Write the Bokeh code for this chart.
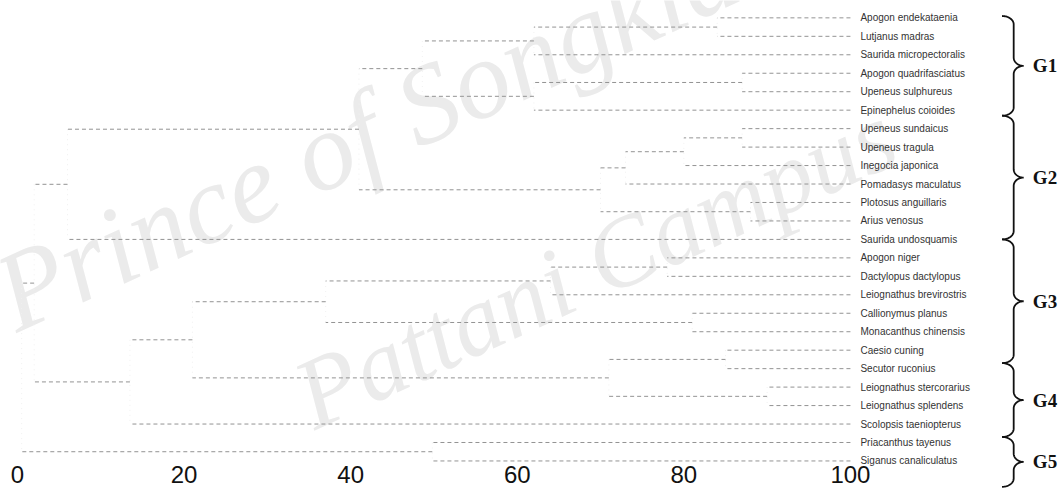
import numpy as np
from bokeh.plotting import figure
from bokeh.models import Range1d, FixedTicker
from bokeh.core.properties import value
from bokeh.embed import file_html
from bokeh.resources import INLINE

# ---------------- data ----------------
species = [
    "Apogon endekataenia", "Lutjanus madras", "Saurida micropectoralis",
    "Apogon quadrifasciatus", "Upeneus sulphureus", "Epinephelus coioides",
    "Upeneus sundaicus", "Upeneus tragula", "Inegocia japonica",
    "Pomadasys maculatus", "Plotosus anguillaris", "Arius venosus",
    "Saurida undosquamis", "Apogon niger", "Dactylopus dactylopus",
    "Leiognathus brevirostris", "Callionymus planus", "Monacanthus chinensis",
    "Caesio cuning", "Secutor ruconius", "Leiognathus stercorarius",
    "Leiognathus splendens", "Scolopsis taeniopterus", "Priacanthus tayenus",
    "Siganus canaliculatus",
]
# linkage: leaves are 0..24, merge k creates node 25+k ; level = similarity (%)
merge_a = [0, 25, 3, 27, 26, 6, 30, 31, 10, 32, 29, 35, 13, 37, 16, 38, 18, 20, 41, 40, 44, 36, 23, 46]
merge_b = [1, 2, 4, 5, 28, 7, 8, 9, 11, 33, 34, 12, 14, 15, 17, 39, 19, 21, 42, 43, 22, 45, 24, 47]
merge_level = [84, 62, 87, 62, 48.6, 87, 80, 73, 88, 70, 41, 6,
               78, 64, 81, 37, 85, 90, 71, 21, 13.5, 2, 49.8, 0.5]

ticks = [0, 20, 40, 60, 80, 100]
groups = ["G1", "G2", "G3", "G4", "G5"]
group_top = [0.9, 6.3, 13.0, 19.7, 23.7]      # row extent of each brace
group_bottom = [6.3, 13.0, 19.7, 23.7, 26.4]

watermark_1 = "Prince of Songkla University"
watermark_2 = "Pattani Campus"

# ---------------- figure ----------------
p = figure(width=1064, height=490, output_backend="svg", toolbar_location=None,
           x_range=Range1d(-2.04, 125.7), y_range=Range1d(26.6, 0.06))
p.min_border = 0
p.min_border_left = 0
p.min_border_right = 0
p.min_border_top = 0
p.min_border_bottom = 0
p.outline_line_color = None
p.xgrid.visible = False
p.ygrid.visible = False
p.yaxis.visible = False
p.background_fill_color = "white"

p.xaxis.ticker = FixedTicker(ticks=ticks)
p.xaxis.axis_line_color = None
p.xaxis.major_tick_line_color = None
p.xaxis.minor_tick_line_color = None
p.xaxis.major_tick_out = 0
p.xaxis.major_label_text_font = "Liberation Sans"
p.xaxis.major_label_text_font_size = "24px"
p.xaxis.major_label_text_color = "#111111"
p.xaxis.major_label_standoff = -25

# watermark
p.text(x=[-2.0], y=[16.2], text=[watermark_1], angle=0.43,
       text_font=value("Liberation Serif"), text_font_style="italic",
       text_font_size="112px", text_color="#ebebeb", text_baseline="alphabetic")
p.text(x=[34.0], y=[21.7], text=[watermark_2], angle=0.43,
       text_font=value("Liberation Serif"), text_font_style="italic",
       text_font_size="100px", text_color="#ebebeb", text_baseline="alphabetic")

# ---------------- dendrogram geometry ----------------
n = len(species)
ypos = {i: float(i + 1) for i in range(n)}
lev = {i: 100.0 for i in range(n)}
hx0, hx1, hy = [], [], []
vx, vy0, vy1 = [], [], []
for k, (a, b, l) in enumerate(zip(merge_a, merge_b, merge_level)):
    node = n + k
    for c in (a, b):
        hx0.append(lev[c]); hx1.append(l); hy.append(ypos[c])
    vx.append(l); vy0.append(ypos[a]); vy1.append(ypos[b])
    ypos[node] = (ypos[a] + ypos[b]) / 2
    lev[node] = l

p.segment(x0=vx, y0=vy0, x1=vx, y1=vy1, line_color="#f0f0f0", line_width=1, line_dash="1 4")
p.segment(x0=hx0, y0=hy, x1=hx1, y1=hy, line_color="#939393", line_width=1, line_dash="4 3")

# species labels
p.text(x=[101.2] * n, y=[i + 1 for i in range(n)], text=species,
       text_font=value("Liberation Sans"), text_font_size="10px",
       text_color="#333333", text_baseline="middle", text_align="left")

# ---------------- braces ----------------
xl, xm, xr = 118.2, 119.6, 120.8
r = 0.45
t = np.linspace(0, 1, 20)
bx, by = [], []
for y0, y1 in zip(group_top, group_bottom):
    ym = (y0 + y1) / 2
    xs = np.concatenate([
        xl + (xm - xl) * np.sin(t * np.pi / 2),
        [xm],
        xm + (xr - xm) * (1 - np.cos(t * np.pi / 2)),
        xm + (xr - xm) * (1 - np.sin(t * np.pi / 2)),
        [xm],
        xm - (xm - xl) * (1 - np.cos(t * np.pi / 2)),
    ])
    ys = np.concatenate([
        y0 + r * (1 - np.cos(t * np.pi / 2)),
        [ym - r],
        ym - r + r * np.sin(t * np.pi / 2),
        ym + r * (1 - np.cos(t * np.pi / 2)),
        [y1 - r],
        y1 - r + r * np.sin(t * np.pi / 2),
    ])
    bx.append(list(xs)); by.append(list(ys))
p.multi_line(xs=bx, ys=by, line_color="#111111", line_width=1.8)

p.text(x=[121.9] * len(groups), y=[(a + b) / 2 for a, b in zip(group_top, group_bottom)],
       text=groups, text_font=value("Liberation Serif"), text_font_style="bold",
       text_font_size="19px", text_color="#111111", text_baseline="middle")

open("out.html", "w").write(file_html(p, INLINE))
